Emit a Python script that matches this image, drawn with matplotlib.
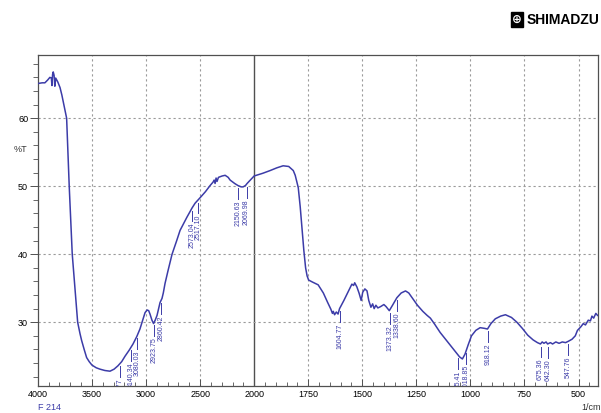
import numpy as np
import matplotlib
matplotlib.use("Agg")
import matplotlib.pyplot as plt
from matplotlib.ticker import FixedLocator, NullFormatter

plt.rcParams['font.family'] = ['Liberation Sans', 'DejaVu Sans']

# FTIR spectrum (wavenumber in 1/cm, %T)
wavenumber = [4000, 3960, 3935, 3910, 3889, 3875, 3870, 3864, 3858, 3850, 3843, 3835, 3815,
              3795, 3778, 3750, 3734, 3710, 3682, 3655, 3632, 3610, 3595, 3570, 3549, 3525,
              3500, 3460, 3426, 3380, 3333, 3295, 3259, 3225, 3194, 3155, 3120, 3085, 3056,
              3030, 3009, 2990, 2975, 2963, 2945, 2930, 2915, 2898, 2885, 2870, 2852, 2840,
              2824, 2796, 2759, 2716, 2685, 2623, 2574, 2546, 2500, 2450, 2407, 2380, 2370,
              2361, 2352, 2343, 2330, 2296, 2268, 2240, 2222, 2180, 2150, 2120, 2102, 2080,
              2065, 2035, 2000, 1960, 1926, 1895, 1866, 1840, 1819, 1810, 1796, 1787, 1778,
              1770, 1762, 1755, 1748, 1730, 1704, 1680, 1660, 1645, 1638, 1634, 1628, 1620,
              1612, 1605, 1585, 1565, 1548, 1540, 1535, 1525, 1515, 1505, 1498, 1488, 1478,
              1470, 1460, 1452, 1445, 1437, 1428, 1415, 1400, 1390, 1375, 1360, 1340, 1320,
              1300, 1285, 1265, 1245, 1220, 1200, 1185, 1165, 1140, 1110, 1093, 1070, 1050,
              1037, 1025, 1010, 995, 975, 955, 935, 921, 905, 885, 860, 838, 810, 785, 760,
              735, 710, 690, 676, 668, 660, 650, 643, 630, 620, 605, 590, 575, 560, 547, 530,
              515, 505, 490, 478, 468, 455, 445, 438, 430, 420, 412]
transmittance = [65.1, 65.2, 65.2, 65.6, 66.0, 65.9, 64.8, 66.4, 66.8, 66.3, 64.7, 65.9, 65.3,
                 64.5, 63.4, 61.2, 60.0, 50.0, 40.0, 34.5, 30.0, 28.3, 27.3, 25.9, 24.8, 24.2,
                 23.7, 23.3, 23.1, 22.9, 22.8, 23.1, 23.6, 24.2, 25.0, 25.9, 26.8, 27.9, 29.0,
                 30.3, 31.4, 31.8, 31.7, 31.2, 30.3, 29.8, 30.3, 31.0, 31.9, 32.9, 33.5, 34.3,
                 35.7, 37.6, 40.0, 42.0, 43.5, 45.4, 46.8, 47.5, 48.3, 49.2, 50.1, 50.6, 50.9,
                 50.4, 51.2, 50.7, 51.3, 51.5, 51.6, 51.3, 50.9, 50.4, 50.1, 49.9, 49.9, 50.1,
                 50.4, 50.9, 51.5, 51.9, 52.3, 52.7, 53.0, 52.9, 52.3, 51.6, 49.8, 47.0, 43.5,
                 40.5, 38.0, 36.8, 36.2, 35.9, 35.5, 34.3, 32.9, 31.9, 31.3, 31.6, 31.1, 31.5,
                 31.2, 32.0, 33.2, 34.5, 35.6, 35.4, 35.8, 35.2, 34.3, 33.2, 34.4, 34.9, 34.6,
                 33.2, 32.2, 32.7, 32.0, 32.5, 32.1, 32.3, 32.6, 32.3, 31.7, 32.5, 33.6, 34.3,
                 34.6, 34.3, 33.4, 32.5, 31.6, 31.0, 30.6, 29.7, 28.5, 27.3, 26.6, 25.7, 24.9,
                 24.6, 25.3, 26.7, 28.0, 28.8, 29.2, 29.1, 29.0, 29.8, 30.5, 30.9, 31.1, 30.7,
                 30.0, 29.1, 28.1, 27.4, 27.0, 26.8, 27.1, 26.9, 27.1, 26.8, 27.0, 26.8, 27.1,
                 26.9, 27.1, 27.0, 27.2, 27.5, 28.0, 28.8, 29.3, 29.8, 29.6, 30.3, 30.2, 30.9,
                 30.6, 31.3, 31.0]

peak_wn = [3240.77, 3140.34, 3080.03, 2923.75, 2860.42, 2573.04, 2517.10, 2150.63, 2069.98,
           1604.77, 1373.32, 1338.60, 1055.41, 1018.85, 918.12, 675.36, 642.30, 547.76]

major_ticks = [4000, 3500, 3000, 2500, 2000, 1750, 1500, 1250, 1000, 750, 500]
y_ticks = [30, 40, 50, 60]

blue = '#3c3ca8'
grey = '#9a9a9a'
dark = '#505050'


# Shimadzu style axis: 2x expansion below 2000 1/cm
def fwd(w):
    w = np.asarray(w, dtype=float)
    return np.where(w >= 2000, w, 2 * w - 2000)


def inv(v):
    v = np.asarray(v, dtype=float)
    return np.where(v >= 2000, v, (v + 2000) / 2)


fig = plt.figure(figsize=(6.01, 4.13), dpi=100)
ax = fig.add_axes([0.063, 0.065, 0.932, 0.802])
ax.set_xscale('function', functions=(fwd, inv))
ax.set_xlim(4000, 410)
ax.set_ylim(20.6, 69.3)

minor_x = [w for w in list(range(3900, 2000, -100)) + list(range(1950, 400, -50))
           if w not in major_ticks]
ax.xaxis.set_major_locator(FixedLocator(major_ticks))
ax.xaxis.set_minor_locator(FixedLocator(minor_x))
ax.xaxis.set_minor_formatter(NullFormatter())
ax.yaxis.set_major_locator(FixedLocator(y_ticks))
ax.yaxis.set_minor_locator(FixedLocator([v for v in range(22, 70, 2) if v not in y_ticks]))

ax.tick_params(axis='x', which='major', direction='in', length=5, width=0.7,
               color=dark, labelsize=6.5, pad=3)
ax.tick_params(axis='x', which='minor', direction='in', length=3, width=0.6, color=dark)
ax.tick_params(axis='y', which='major', direction='out', length=6, width=0.7,
               color=dark, labelsize=6.5, pad=1)
ax.tick_params(axis='y', which='minor', direction='out', length=3.5, width=0.6, color=dark)

for w in major_ticks[1:]:
    if w == 2000:
        ax.axvline(w, color=dark, lw=1.0, zorder=1)
    else:
        ax.axvline(w, color=grey, lw=0.8, ls=(0, (2, 2.5)), zorder=1)
for t in y_ticks:
    ax.axhline(t, color=grey, lw=0.8, ls=(0, (2, 2.5)), zorder=1)

for s in ax.spines.values():
    s.set_color(dark)
    s.set_linewidth(0.9)

ax.plot(wavenumber, transmittance, color=blue, lw=1.1, zorder=3)

# peak markers
wn_inc = wavenumber[::-1]
t_inc = transmittance[::-1]
for w in peak_wn:
    t = np.interp(w, wn_inc, t_inc)
    ax.plot([w, w], [t - 0.4, t - 2.0], color=blue, lw=0.7, zorder=3)
    ax.text(w, t - 2.2, f"{w:.2f}", rotation=90, ha='center', va='top',
            fontsize=5.0, color=blue, clip_on=True, zorder=3)

fig.text(0.022, 0.632, "%T", fontsize=6.5, color='#333333')
fig.text(0.063, 0.008, "F 214", fontsize=6.5, color=blue)
fig.text(0.999, 0.008, "1/cm", fontsize=6.5, color='#333333', ha='right')

fig.text(0.852, 0.952, "\u2295", fontsize=8.5, color='white', fontweight='bold',
         ha='left', va='center', family='DejaVu Sans',
         bbox=dict(facecolor='black', edgecolor='black', pad=0.8))
fig.text(0.876, 0.952, "SHIMADZU", fontsize=10, fontweight='bold', color='black',
         ha='left', va='center')

fig.savefig("out.png", dpi=100)
